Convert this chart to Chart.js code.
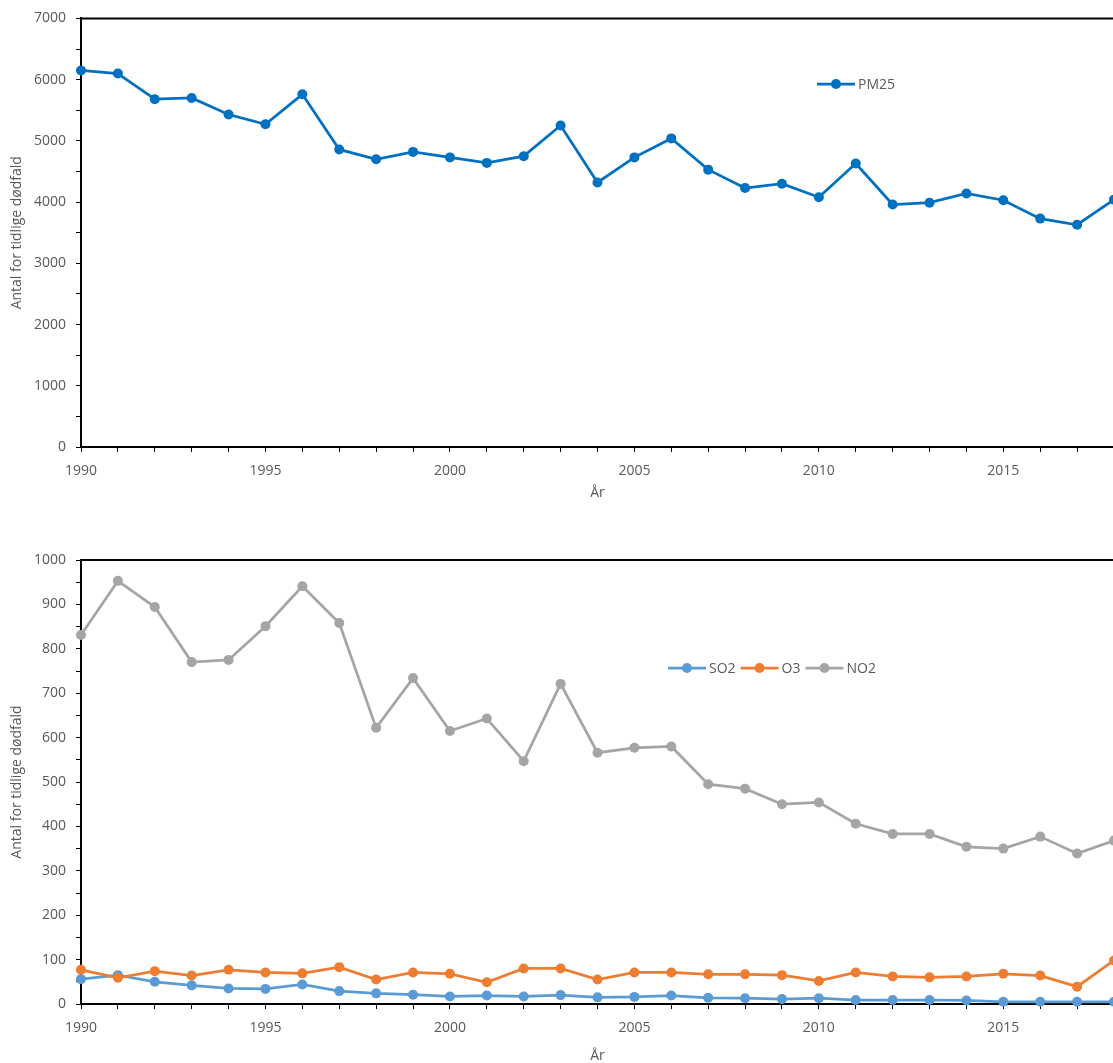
<!DOCTYPE html>
<html><head><meta charset="utf-8">
<script src="https://cdn.jsdelivr.net/npm/chart.js@4.4.1/dist/chart.umd.min.js"></script>
<style>
html,body{margin:0;padding:0;background:#fff;overflow:hidden;width:1113px;height:1063px;}
#c1{position:absolute;left:0;top:0;}
#c2{position:absolute;left:0;top:540px;}
</style></head><body>
<canvas id="c1" width="1125" height="505"></canvas>
<canvas id="c2" width="1125" height="528"></canvas>
<script>
const years = [1990,1991,1992,1993,1994,1995,1996,1997,1998,1999,2000,2001,2002,2003,2004,2005,2006,2007,2008,2009,2010,2011,2012,2013,2014,2015,2016,2017,2018];
const pm25 = [6150,6100,5680,5700,5430,5270,5760,4860,4700,4820,4730,4640,4750,5250,4320,4730,5040,4530,4230,4300,4080,4630,3960,3990,4140,4030,3730,3630,4040];
const so2 = [56,65,50,42,35,34,44,29,24,21,17,19,17,20,15,16,19,14,13,11,13,9,9,9,8,5,5,5,5];
const o3 = [77,59,74,64,77,71,69,83,55,71,68,49,80,80,55,71,71,67,67,65,52,71,62,60,62,68,64,39,98];
const no2 = [831,953,894,770,775,851,941,858,622,734,615,643,547,721,566,577,580,495,485,450,454,406,383,383,354,350,377,339,368];
const yTitle = 'Antal for tidlige dødfald';
const xTitle = 'År';

const TXT = '#595959';
const FONT = {family:'"Open Sans", sans-serif', size:14};

const framePlugin = {
  id:'frame',
  beforeDatasetsDraw(chart){
    const {ctx, chartArea:{left,top,right,bottom}} = chart;
    ctx.save(); ctx.strokeStyle='#000'; ctx.lineWidth=2;
    ctx.beginPath(); ctx.moveTo(left-1,top); ctx.lineTo(right,top); ctx.lineTo(right,bottom); ctx.stroke();
    ctx.restore();
  }
};
const legendPlugin = {
  id:'inLegend',
  afterDraw(chart, args, opts){
    const ctx = chart.ctx;
    ctx.save();
    ctx.font = '14px "Open Sans", sans-serif';
    ctx.textBaseline = 'middle';
    let x = opts.x; const y = opts.y;
    chart.data.datasets.forEach(ds => {
      ctx.strokeStyle = ds.borderColor; ctx.lineWidth = 2.75;
      ctx.beginPath(); ctx.moveTo(x,y); ctx.lineTo(x+38,y); ctx.stroke();
      ctx.fillStyle = ds.borderColor; ctx.beginPath(); ctx.arc(x+19,y,5,0,Math.PI*2); ctx.fill();
      ctx.fillStyle = TXT; ctx.fillText(ds.label, x+41, y+1);
      x += 41 + ctx.measureText(ds.label).width + 5;
    });
    ctx.restore();
  }
};

function makeScales(yMax, yStep, yLabelStep, xH){
  return {
    x:{
      type:'category', offset:false,
      grid:{display:true, drawOnChartArea:false, drawTicks:true, tickLength:5, tickColor:'#000', lineWidth:1},
      border:{display:true, color:'#000', width:2},
      ticks:{autoSkip:false, maxRotation:0, minRotation:0, padding:11, color:TXT, font:FONT,
        callback(v,i){ const yr = years[i]; return yr % 5 === 0 ? String(yr) : ''; }},
      title:{display:true, text:xTitle, color:TXT, font:FONT, padding:{top:0,bottom:4}},
      afterFit(s){ s.height = xH; }
    },
    y:{
      type:'linear', min:0, max:yMax,
      grid:{display:true, drawOnChartArea:false, drawTicks:true, tickLength:5, tickColor:'#000', lineWidth:1},
      border:{display:true, color:'#000', width:2},
      ticks:{stepSize:yStep, padding:10, color:TXT, font:FONT,
        callback(v){ return v % yLabelStep === 0 ? String(v) : ''; }},
      title:{display:true, text:yTitle, color:TXT, font:FONT, padding:{top:9,bottom:0}},
      afterFit(s){ s.width = 81; }
    }
  };
}

function ds(label, data, color, order){
  return {label, data, borderColor:color, backgroundColor:color, pointBackgroundColor:color,
    pointBorderColor:color, pointRadius:5, pointBorderWidth:0, borderWidth:2.75, tension:0,
    clip:false, order};
}

new Chart(document.getElementById('c1'), {
  type:'line',
  data:{labels:years, datasets:[ds('PM25', pm25, '#0070C0', 1)]},
  options:{
    responsive:false, animation:false, devicePixelRatio:1,
    layout:{padding:{top:17, right:8, left:0, bottom:0}},
    scales:makeScales(7000, 500, 1000, 58),
    plugins:{legend:{display:false}, tooltip:{enabled:false}, inLegend:{x:817, y:84}}
  },
  plugins:[framePlugin, legendPlugin]
});

new Chart(document.getElementById('c2'), {
  type:'line',
  data:{labels:years, datasets:[ds('SO2', so2, '#5B9BD5', 3), ds('O3', o3, '#ED7D31', 2), ds('NO2', no2, '#A5A5A5', 1)]},
  options:{
    responsive:false, animation:false, devicePixelRatio:1,
    layout:{padding:{top:20, right:8, left:0, bottom:0}},
    scales:makeScales(1000, 50, 100, 64),
    plugins:{legend:{display:false}, tooltip:{enabled:false}, inLegend:{x:668, y:128}}
  },
  plugins:[framePlugin, legendPlugin]
});
</script>
</body></html>
